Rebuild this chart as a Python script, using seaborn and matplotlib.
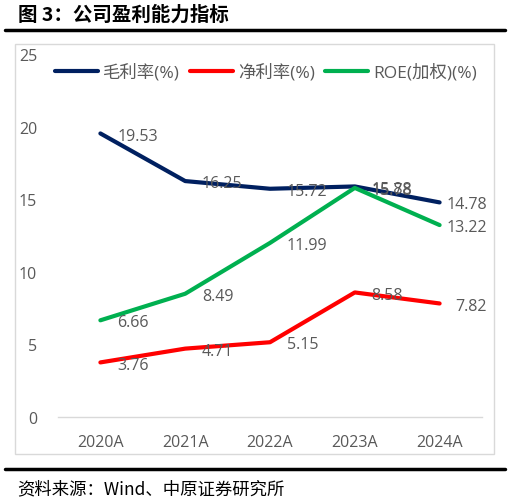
import pandas as pd
import matplotlib.pyplot as plt
import seaborn as sns
from matplotlib.lines import Line2D
from matplotlib.patches import Rectangle

# 数据
years = ['2020A', '2021A', '2022A', '2023A', '2024A']
gross_margin = [19.53, 16.25, 15.72, 15.88, 14.78]
net_margin = [3.76, 4.71, 5.15, 8.58, 7.82]
roe = [6.66, 8.49, 11.99, 15.78, 13.22]
series_names = ['毛利率(%)', '净利率(%)', 'ROE(加权)(%)']
colors = ['#002060', '#FF0000', '#00B050']

df = pd.DataFrame({'年份': years * 3,
                   '值': gross_margin + net_margin + roe,
                   '指标': [n for n in series_names for _ in years]})

sns.set_theme(style='white')
plt.rcParams['font.family'] = ['Open Sans', 'Noto Sans CJK SC', 'DejaVu Sans']

grey = '#595959'
fs = 11.5
fig = plt.figure(figsize=(5.1, 5.02), dpi=100)
ax = fig.add_axes([0.1137, 0.1673, 0.8314, 0.7231])

sns.lineplot(data=df, x='年份', y='值', hue='指标', palette=colors,
             hue_order=series_names, linewidth=3, ax=ax, legend=False, sort=False)

# 数据标签
for vals in [gross_margin, net_margin, roe]:
    for i, v in enumerate(vals):
        if i == len(vals) - 1:
            ax.annotate(f'{v:.2f}', (i, v), xytext=(34, -1.5), textcoords='offset points',
                        ha='right', va='center', fontsize=fs, color=grey)
        else:
            ax.annotate(f'{v:.2f}', (i, v), xytext=(12, -1.5), textcoords='offset points',
                        ha='left', va='center', fontsize=fs, color=grey)

ax.set_xlim(-0.5, 4.5)
ax.set_ylim(0, 25)
ax.set_yticks([0, 5, 10, 15, 20, 25])
ax.set_xlabel('')
ax.set_ylabel('')
for s in ['top', 'right', 'left']:
    ax.spines[s].set_visible(False)
ax.spines['bottom'].set_color('#D9D9D9')
ax.spines['bottom'].set_linewidth(1)
ax.tick_params(axis='x', length=0, pad=12, labelsize=fs, labelcolor=grey)
ax.tick_params(axis='y', length=0, pad=15, labelsize=fs, labelcolor=grey)
ax.set_facecolor('none')

handles = [Line2D([0], [0], color=c, lw=3) for c in colors]
leg = ax.legend(handles, series_names, loc='center', bbox_to_anchor=(0.49, 0.95),
                ncol=3, frameon=False, fontsize=12.5, handlelength=2.5,
                columnspacing=0.6, handletextpad=0.25)
for t in leg.get_texts():
    t.set_color(grey)

# 图表外框
fig.patches.append(Rectangle((0.0294, 0.0936), 0.939, 0.8167, transform=fig.transFigure,
                             fill=False, edgecolor='#D9D9D9', linewidth=1, zorder=0))

# 标题与来源
fig.text(0.035, 0.970, '图 3：公司盈利能力指标', fontsize=14, fontweight='bold',
         color='black', va='center', ha='left', family=['Noto Sans CJK SC', 'DejaVu Sans'])
fig.add_artist(Line2D([0.01, 0.99], [0.938, 0.938], color='black', lw=2.5,
                      transform=fig.transFigure))
fig.add_artist(Line2D([0.01, 0.99], [0.0637, 0.0637], color='black', lw=2.5,
                      transform=fig.transFigure))
fig.text(0.033, 0.026, '资料来源：Wind、中原证券研究所', fontsize=12.5, color='black',
         va='center', ha='left', family=['Noto Sans CJK SC', 'DejaVu Sans'])

fig.savefig('out.png', dpi=100)
